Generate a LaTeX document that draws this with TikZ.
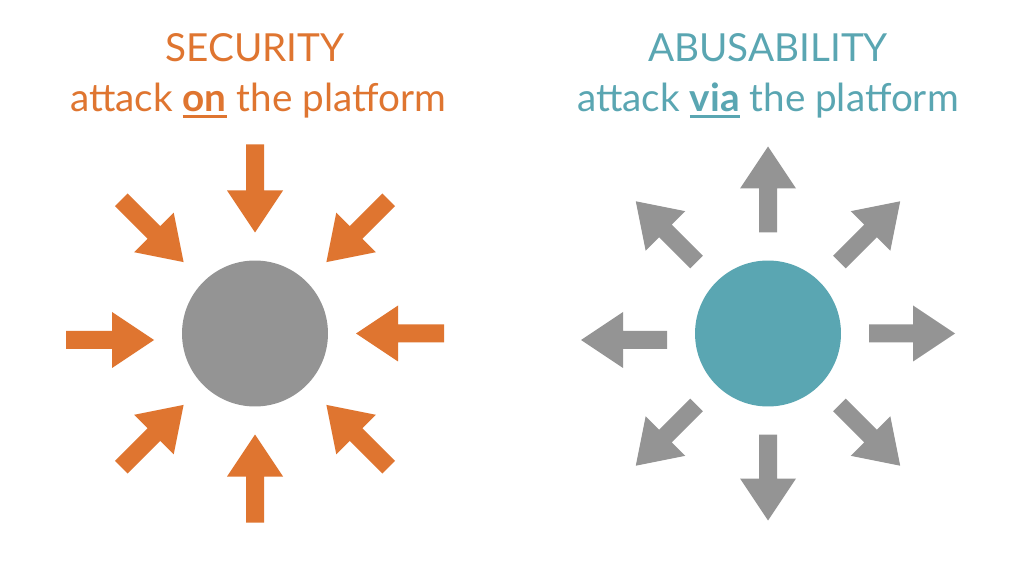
\documentclass[tikz,border=0pt]{standalone}
\usepackage{fontspec}
\setmainfont{Lato}
\usepackage{tikz}
\usetikzlibrary{positioning}

\definecolor{secorange}{RGB}{223,117,48}
\definecolor{abuteal}{RGB}{90,166,178}
\definecolor{platgray}{RGB}{148,148,148}

% underlined bold word
\newcommand{\ulword}[1]{\setbox0\hbox{\textbf{#1}}\rlap{\rule[-3.2pt]{\wd0}{1.3pt}}\box0\relax}

\begin{document}
\begin{tikzpicture}[x=0.02cm, y=-0.02cm, font=\fontsize{22}{26}\selectfont]
\tikzstyle{platform}=[circle, inner sep=0pt, minimum size=2.92cm]
\tikzstyle{title}=[anchor=base, inner sep=0pt]
\useasboundingbox[fill=white] (0,0) rectangle (1024,567);

% left: security
\node[title, text=secorange] (sectitle) at (255,62) {SECURITY};
\node[title, text=secorange] (secsub) at (258,112) {attack \ulword{on} the platform};
\node[platform, fill=platgray] (sec) at (255,333.5) {};
\foreach \a/\dy in {0/0,45/0,90/0,135/0,180/6.5,225/0,270/0,315/0}
  \fill[secorange, shift={(sec.center)}, yshift=-\dy*0.02cm, rotate=\a]
    (189,-9) -- (143,-9) -- (143,-28) -- (101,0) -- (143,28) -- (143,9) -- (189,9) -- cycle;

% right: abusability
\node[title, text=abuteal] (abutitle) at (768,62) {ABUSABILITY};
\node[title, text=abuteal] (abusub) at (768,112) {attack \ulword{via} the platform};
\node[platform, fill=abuteal] (abu) at (768,333.5) {};
\foreach \a/\dy in {0/0,45/0,90/0,135/0,180/6.5,225/0,270/0,315/0}
  \fill[platgray, shift={(abu.center)}, yshift=-\dy*0.02cm, rotate=\a]
    (101,-9) -- (145,-9) -- (145,-28) -- (187,0) -- (145,28) -- (145,9) -- (101,9) -- cycle;
\end{tikzpicture}
\end{document}
